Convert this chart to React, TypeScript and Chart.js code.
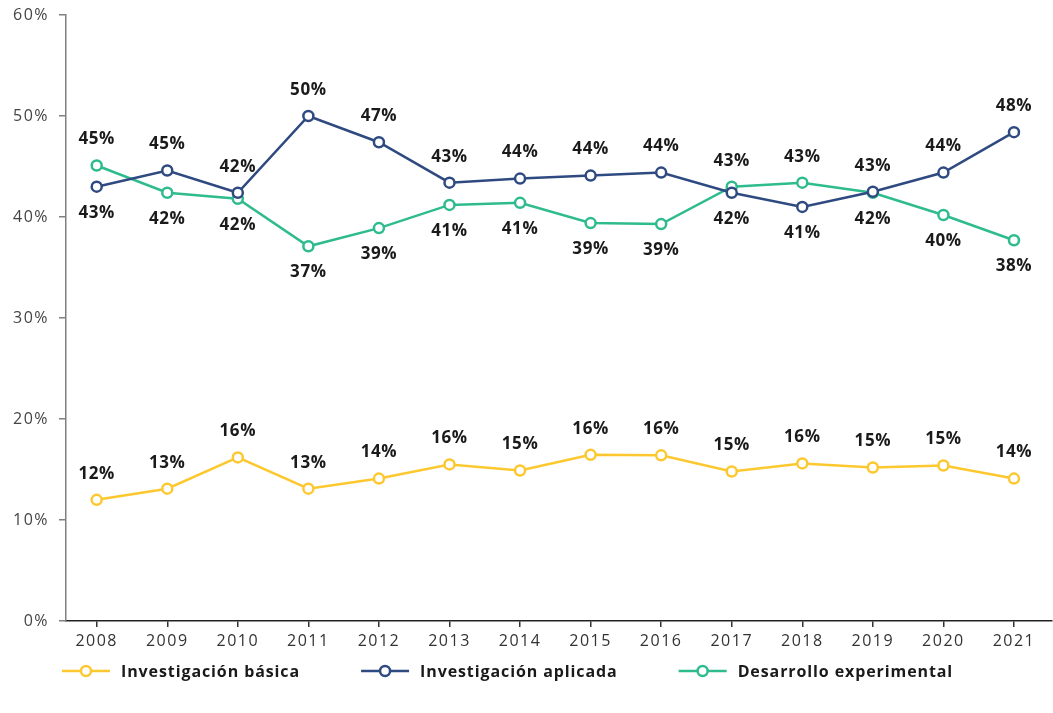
import React, { useEffect, useRef } from "react";
import { Chart, registerables } from "chart.js";

Chart.register(...registerables);

const YEARS = ["2008", "2009", "2010", "2011", "2012", "2013", "2014", "2015", "2016", "2017", "2018", "2019", "2020", "2021"];
const BASICA = [12.0, 13.1, 16.2, 13.1, 14.1, 15.5, 14.9, 16.45, 16.4, 14.8, 15.6, 15.2, 15.4, 14.1];
const APLICADA = [43.0, 44.6, 42.4, 50.0, 47.4, 43.4, 43.8, 44.1, 44.4, 42.4, 41.0, 42.5, 44.4, 48.4];
const DESARROLLO = [45.1, 42.4, 41.8, 37.1, 38.9, 41.2, 41.4, 39.4, 39.3, 43.0, 43.4, 42.4, 40.2, 37.7];
const SERIES_NAMES = ["Investigación básica", "Investigación aplicada", "Desarrollo experimental"];
const Y_TICKS = [0, 10, 20, 30, 40, 50, 60];

const COLORS = ["#FDC82F", "#2F4A80", "#2EBB8E"];
const FONT = "'Open Sans', 'DejaVu Sans', sans-serif";

const spacingPlugin = {
  id: "spacing",
  beforeDraw(chart: any) {
    chart.ctx.letterSpacing = "1.5px";
  },
};

const labelPlugin = {
  id: "valueLabels",
  afterDatasetsDraw(chart: any) {
    const ctx = chart.ctx;
    ctx.save();
    ctx.letterSpacing = "0.6px";
    ctx.font = `700 17px ${FONT}`;
    ctx.fillStyle = "#1a1a1a";
    ctx.textAlign = "center";
    ctx.textBaseline = "middle";
    const all = chart.data.datasets.map((d: any) => d.data.map((p: any) => p.y));
    chart.data.datasets.forEach((ds: any, di: number) => {
      const meta = chart.getDatasetMeta(di);
      meta.data.forEach((el: any, i: number) => {
        const v = all[di][i];
        let above = true;
        if (di === 1) above = v >= all[2][i];
        if (di === 2) above = v > all[1][i];
        const dy = above ? -26 : 26;
        ctx.fillText(Math.round(v) + "%", el.x, el.y + dy);
      });
    });
    ctx.restore();
  },
};

const legendPlugin = {
  id: "lineLegend",
  afterDraw(chart: any) {
    const ctx = chart.ctx;
    ctx.save();
    ctx.letterSpacing = "0.9px";
    ctx.font = `700 16px ${FONT}`;
    ctx.textBaseline = "middle";
    ctx.textAlign = "left";
    const y = 671;
    let x = 62;
    chart.data.datasets.forEach((ds: any) => {
      ctx.strokeStyle = ds.borderColor;
      ctx.lineWidth = 2.5;
      ctx.beginPath();
      ctx.moveTo(x, y);
      ctx.lineTo(x + 48, y);
      ctx.stroke();
      ctx.beginPath();
      ctx.arc(x + 24, y, 5, 0, Math.PI * 2);
      ctx.fillStyle = "#ffffff";
      ctx.fill();
      ctx.stroke();
      ctx.fillStyle = "#1a1a1a";
      ctx.fillText(ds.label, x + 59, y + 1);
      const w = ctx.measureText(ds.label).width;
      x = x + 59 + w + 61;
    });
    ctx.restore();
  },
};

export default function App() {
  const ref = useRef<HTMLCanvasElement | null>(null);
  useEffect(() => {
    if (!ref.current) return;
    const seriesVals = [BASICA, APLICADA, DESARROLLO];
    const chart = new Chart(ref.current, {
      type: "line",
      data: {
        datasets: seriesVals.map((vals, si) => ({
          label: SERIES_NAMES[si],
          data: vals.map((v, i) => ({ x: i, y: v })),
          borderColor: COLORS[si],
          backgroundColor: "#ffffff",
          pointBackgroundColor: "#ffffff",
          pointBorderColor: COLORS[si],
          pointRadius: 5,
          pointBorderWidth: 2.5,
          borderWidth: 2.5,
          tension: 0,
        })),
      },
      options: {
        animation: false,
        responsive: true,
        maintainAspectRatio: false,
        layout: { autoPadding: false, padding: { top: 15, right: 1, left: 0, bottom: 0 } },
        plugins: { legend: { display: false }, tooltip: { enabled: false } },
        scales: {
          x: {
            type: "linear",
            min: -0.435,
            max: 13.539,
            afterBuildTicks(scale: any) {
              scale.ticks = YEARS.map((_, i) => ({ value: i }));
            },
            afterFit(scale: any) {
              scale.height = 92;
              scale.paddingLeft = 0;
              scale.paddingRight = 0;
            },
            ticks: {
              callback: (v: any) => YEARS[v] ?? "",
              font: { family: FONT, size: 16 },
              color: "#333333",
              padding: 5,
              maxRotation: 0,
              autoSkip: false,
            },
            grid: { drawOnChartArea: false, drawTicks: true, tickLength: 6, color: "#333333", lineWidth: 1.5 },
            border: { display: true, color: "#222222", width: 1.5 },
          },
          y: {
            min: 0,
            max: 60,
            afterBuildTicks(scale: any) {
              scale.ticks = Y_TICKS.map((v) => ({ value: v }));
            },
            afterFit(scale: any) {
              scale.width = 66;
              scale.paddingTop = 0;
              scale.paddingBottom = 0;
            },
            ticks: {
              callback: (v: any) => v + "%",
              font: { family: FONT, size: 16 },
              color: "#444444",
              padding: 10,
            },
            grid: { drawOnChartArea: false, drawTicks: true, tickLength: 7, color: "#808080", lineWidth: 1.5 },
            border: { display: true, color: "#808080", width: 1.5 },
          },
        },
      },
      plugins: [spacingPlugin, labelPlugin, legendPlugin],
    } as any);
    return () => chart.destroy();
  }, []);
  return (
    <div style={{ position: "fixed", left: 0, top: 0, width: 1053, height: 713, background: "#ffffff" }}>
      <canvas ref={ref} />
    </div>
  );
}
